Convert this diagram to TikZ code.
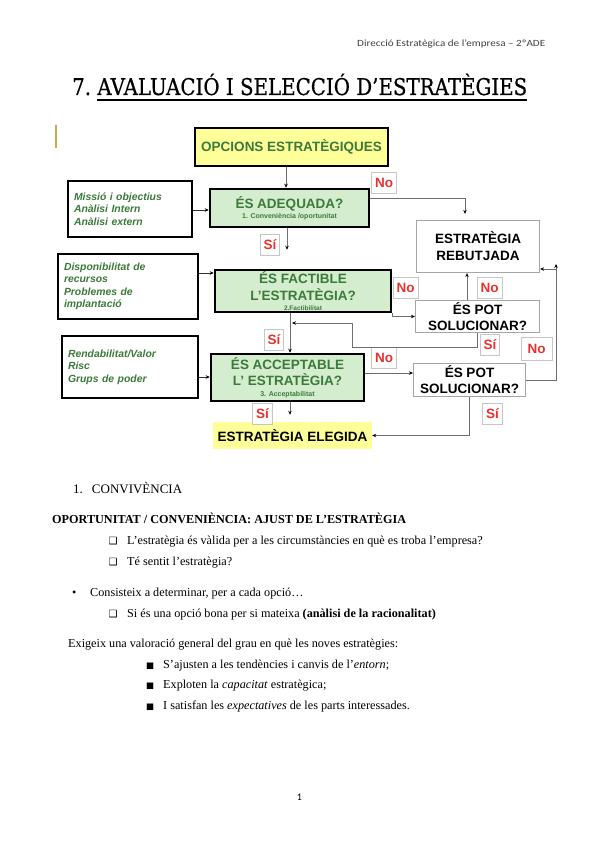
\documentclass[tikz,border=0pt]{standalone}
\usepackage{fontspec}
\usepackage{graphicx}
\setmainfont{Liberation Serif}
\newfontfamily\arialf{Liberation Sans}
\newfontfamily\symf{DejaVu Sans}
\newfontfamily\titlef[FakeBold=0.6]{DejaVu Serif}
\newfontfamily\hdrf{Carlito}
\usetikzlibrary{arrows.meta}
\definecolor{gtext}{HTML}{3C7A3A}
\definecolor{boxgreen}{HTML}{D4EDCF}
\definecolor{yell}{HTML}{FFFF99}
\definecolor{redc}{HTML}{E8322E}
\definecolor{conng}{HTML}{6E6E6E}
\definecolor{gold}{HTML}{C9A94D}
\begin{document}
\begin{tikzpicture}[x=1pt,y=-1pt,
  mainbox/.style={draw=black, line width=2.5pt, fill=boxgreen, text=gtext, align=center, inner sep=0pt,
    font=\arialf\bfseries\fontsize{13.5}{16}\selectfont},
  yellbox/.style={fill=yell, text=black, align=center, inner sep=0pt,
    font=\arialf\bfseries\fontsize{13.5}{16}\selectfont},
  graybox/.style={draw=gray!70, line width=1.2pt, fill=white, text=black, align=center, inner sep=0pt,
    font=\arialf\bfseries\fontsize{13.5}{16}\selectfont},
  leftbox/.style={draw=black, line width=2.5pt, fill=white, text=gtext, align=left, inner xsep=6pt, inner ysep=0pt,
    font=\arialf\bfseries\itshape\fontsize{10.4}{12.5}\selectfont},
  lab/.style={draw=gray!45, line width=0.8pt, fill=white, text=redc, inner xsep=3.5pt, inner ysep=0pt, minimum height=21pt,
    font=\arialf\bfseries\fontsize{13.5}{14}\selectfont},
  conn/.style={draw=conng, line width=0.9pt, -{Stealth[length=4pt,width=3.5pt,color=black]}},
  lconn/.style={draw=black!80, line width=0.9pt, -{Stealth[length=4pt,width=3.5pt,color=black]}},
  body/.style={anchor=base west, inner sep=0pt, font=\fontsize{12.2}{14}\selectfont},
  sym/.style={anchor=base west, inner sep=0pt, font=\symf\fontsize{10}{10}\selectfont},
  sqb/.style={anchor=base west, inner sep=0pt, font=\symf\fontsize{8.5}{10}\selectfont}
]
\fill[white] (0,0) rectangle (599,848);
\useasboundingbox (0,0) rectangle (599,848);

% header and title
\node[anchor=base west, inner sep=0pt, text=black!75, font=\hdrf\fontsize{9.5}{11}\selectfont] (hdr) at (357,46.5)
  {\resizebox{188pt}{\height}{Direcció Estratègica de l’empresa – 2ºADE}};
\node[anchor=base west, inner sep=0pt, font=\titlef\fontsize{23}{26}\selectfont] (title) at (72,95)
  {\resizebox{455pt}{\height}{7.\ AVALUACIÓ I SELECCIÓ D’ESTRATÈGIES}};
\coordinate (ul1) at (97,100);
\coordinate (ul2) at (527,100);
\draw[line width=1.3pt] (ul1) -- (ul2);
\draw[gold, line width=2pt] (56,125) -- (56,148);

% diagram boxes
\node[yellbox, draw=black, line width=2pt, minimum width=193pt, minimum height=38pt, text=gtext] (opc) at (291.5,147) {OPCIONS ESTRATÈGIQUES};
\node[mainbox, minimum width=159pt, minimum height=38pt] (ade) at (289.5,208)
  {ÉS ADEQUADA?\\[-5.5pt]{\fontsize{7}{8}\selectfont 1. Conveniència /oportunitat}};
\node[mainbox, minimum width=176pt, minimum height=42pt] (fac) at (303,291)
  {ÉS FACTIBLE\\[1pt]L’ESTRATÈGIA?\\[-6.5pt]{\fontsize{6.5}{8}\selectfont 2.Factibilitat}};
\node[mainbox, minimum width=153pt, minimum height=47pt] (acc) at (287.5,377.5)
  {ÉS ACCEPTABLE\\L’ ESTRATÈGIA?\\[-4.5pt]{\fontsize{7}{8}\selectfont 3. Acceptabilitat}};
\node[yellbox, minimum width=159pt, minimum height=27pt] (ele) at (292.5,435.5) {ESTRATÈGIA ELEGIDA};
\node[graybox, minimum width=123pt, minimum height=52pt] (reb) at (478,246.5) {ESTRATÈGIA\\[1pt]REBUTJADA};
\node[graybox, minimum width=124pt, minimum height=32pt] (pot1) at (477.5,316.5) {ÉS POT\\SOLUCIONAR?};
\node[graybox, minimum width=112pt, minimum height=33pt] (pot2) at (469.5,380) {ÉS POT\\SOLUCIONAR?};

\node[leftbox, text width=112pt, minimum height=56pt] (L1) at (130,209)
  {Missió i objectius\\Anàlisi Intern\\Anàlisi extern};
\node[leftbox, text width=128pt, minimum height=65pt] (L2) at (128,286.5)
  {Disponibilitat de\\recursos\\Problemes de\\implantació};
\node[leftbox, text width=124pt, minimum height=62pt] (L3) at (130,367)
  {Rendabilitat/Valor\\Risc\\Grups de poder};

% labels
\node[lab] (no1) at (384,182.5) {No};
\node[lab] (si1) at (270,244.5) {Sí};
\node[lab] (no2) at (405.5,288) {No};
\node[lab] (no3) at (489.5,288) {No};
\node[lab] (si2) at (490,345) {Sí};
\node[lab] (si3) at (274,340) {Sí};
\node[lab] (no4) at (384,357.5) {No};
\node[lab, minimum width=31pt, minimum height=23pt] (no5) at (536.5,348.5) {No};
\node[lab] (si4) at (262.5,413.5) {Sí};
\node[lab] (si5) at (492.5,413.5) {Sí};

% helper coordinates
\coordinate (xa) at (287,0);
\coordinate (xb) at (467,0);
\coordinate (xd) at (290,0);
\coordinate (xo) at (286,0);
\coordinate (c1) at (465,198);
\coordinate (y1) at (0,210);
\coordinate (y2) at (0,273);
\coordinate (y3) at (0,377);
\coordinate (y4) at (0,373);
\coordinate (p1) at (352,347);
\coordinate (p2) at (352,323);
\coordinate (p3) at (292,323);
\coordinate (p4) at (556,264);
\coordinate (p5) at (556,269);

% connectors
\draw[conn] (opc.south -| xo) -- (ade.north -| xo);
\draw[lconn] (L1.east |- y1) -- (ade.west |- y1);
\draw[conn, shorten >=6pt] (ade.east |- c1) -- (c1) -- (c1 |- reb.north);
\draw[conn, shorten >=19pt] (ade.south -| xa) -- (fac.north -| xa);
\draw[lconn] (L2.east |- y2) -- (fac.west |- y2);
\draw[conn] (fac.south east) |- (pot1.west);
\draw[conn] (pot1.north -| xb) -- (reb.south -| xb);
\draw[conn] (pot1.south) |- (p1) -- (p2) -- (p3);
\draw[conn] (fac.south -| xd) -- (acc.north -| xd);
\draw[lconn] (L3.east |- y3) -- (acc.west |- y3);
\draw[conn] (acc.east |- y4) -- (pot2.west |- y4);
\draw[conn] (pot2.east) -| (p4);
\draw[conn] (p5) -- (reb.east |- p5);
\draw[conn, shorten >=7pt] (acc.south -| xd) -- (ele.north -| xd);
\draw[conn] (pot2.south) |- (ele.east);

% text section
\node[body, font=\fontsize{13}{16}\selectfont] (sec) at (73,493) {1.\hspace{9pt}CONVIVÈNCIA};
\node[body, font=\bfseries\fontsize{12.2}{14}\selectfont] (head) at (52,523)
  {OPORTUNITAT / CONVENIÈNCIA: AJUST DE L’ESTRATÈGIA};
\node[sym] (q1) at (108.5,544.5) {❑};
\node[body] (t1) at (127,544.5) {L’estratègia és vàlida per a les circumstàncies en què es troba l’empresa?};
\node[sym] (q2) at (108.5,565.5) {❑};
\node[body] (t2) at (127,565.5) {Té sentit l’estratègia?};
\node[body] (b1) at (72,596.5) {•};
\node[body] (t3) at (90,596.5) {Consisteix a determinar, per a cada opció…};
\node[sym] (q3) at (108.5,617.5) {❑};
\node[body] (t4) at (127,617.5) {Si és una opció bona per si mateixa \textbf{(anàlisi de la racionalitat)}};
\node[body] (t5) at (68,647) {Exigeix una valoració general del grau en què les noves estratègies:};
\node[sqb] (s1) at (146,668.5) {■};
\node[body] (t6) at (163,668.5) {S’ajusten a les tendències i canvis de l’\textit{entorn};};
\node[sqb] (s2) at (146,688.5) {■};
\node[body] (t7) at (163,688.5) {Exploten la \textit{capacitat} estratègica;};
\node[sqb] (s3) at (146,709.5) {■};
\node[body] (t8) at (163,709.5) {I satisfan les \textit{expectatives} de les parts interessades.};
\node[anchor=base, inner sep=0pt, font=\hdrf\fontsize{10}{12}\selectfont] (pg) at (299.5,800) {1};
\end{tikzpicture}
\end{document}
